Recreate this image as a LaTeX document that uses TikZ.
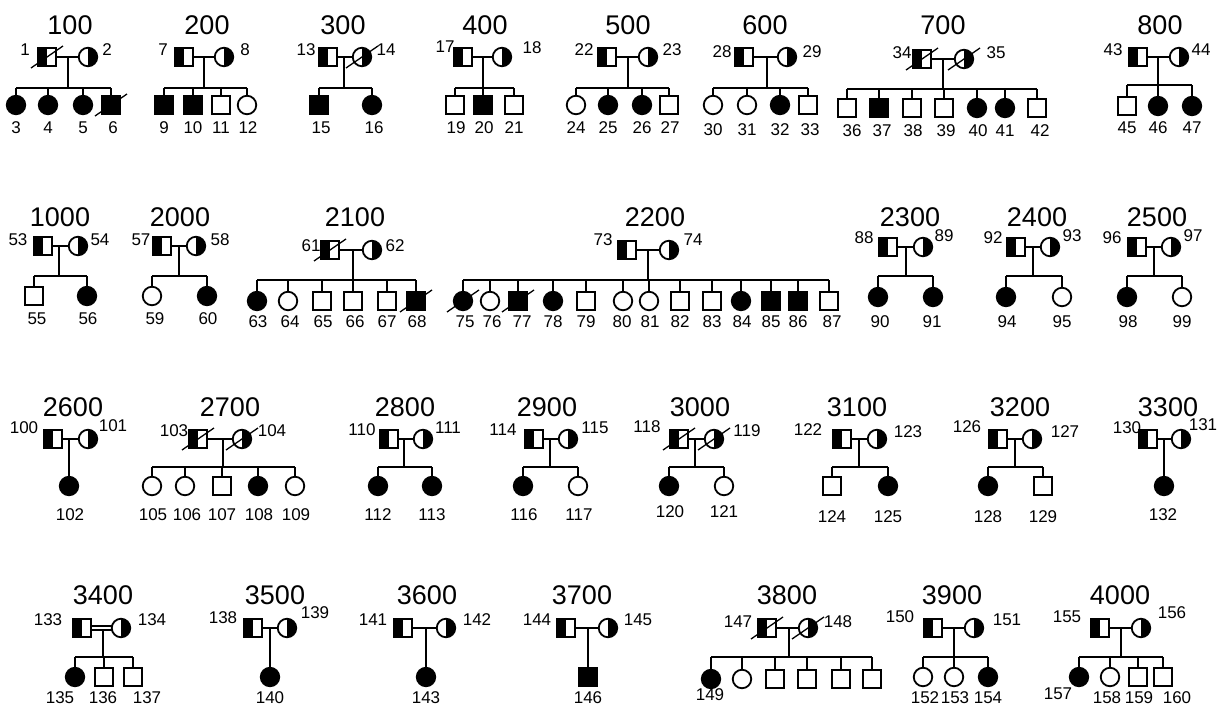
\documentclass[tikz,border=0pt]{standalone}
\usepackage{fontspec}
\setmainfont{Liberation Sans}
\tikzset{
  ln/.style={line width=1.8pt},
  sym/.style={draw, line width=1.8pt, inner sep=0pt, outer sep=0pt},
  sq/.style={sym, rectangle, minimum width=18.5pt, minimum height=17.5pt},
  ci/.style={sym, circle, minimum size=18.5pt},
  aff/.style={fill=black},
  hm/.style={path picture={\fill[black] (path picture bounding box.south west) rectangle (path picture bounding box.north);}},
  hf/.style={path picture={\fill[black] (path picture bounding box.south) rectangle (path picture bounding box.north east);}},
  ttl/.style={font=\fontsize{27}{27}\selectfont, inner sep=0pt},
  lab/.style={font=\fontsize{17}{17}\selectfont, inner sep=0pt},
  slash/.style={line width=1.3pt},
}
\newcommand\Pm[5]{\node[sq,hm,#2] (p#1) at (#3,\py) {}; \node[lab] (l#1) at (#4,#5) {#1};}
\newcommand\Pf[5]{\node[ci,hf,#2] (p#1) at (#3,\py) {}; \node[lab] (l#1) at (#4,#5) {#1};}
\newcommand\K[4]{\node[#2] (c#1) at (#3,\cy) {}; \node[lab] (l#1) at (#4,\ly) {#1};}
\newcommand\Couple[5]{\node[ttl] (t#1) at (#2,\ty) {#1}; \draw[ln] (p#3) -- (p#4); \coordinate (m#1) at (#5,\py); \coordinate (s#1) at (#5,\sy);}
\newcommand\Sib[4]{\draw[ln] (m#1) -- (s#1); \draw[ln] (c#2|-s#1) -- (c#3|-s#1); \foreach \k in {#4} {\draw[ln] (c\k|-s#1) -- (c\k);}}
\newcommand\Dead[1]{\draw[slash] ([shift={(-16,11)}]#1.center) -- ([shift={(16,-11)}]#1.center);}
\begin{document}
\begin{tikzpicture}[x=1pt,y=-1pt]
\useasboundingbox[fill=white] (0,0) rectangle (1224,707);
% ================= ROW 1
\def\ty{25}\def\py{57}\def\sy{88}\def\cy{105}\def\ly{128}
% 100
\Pm{1}{}{47}{25}{50} \Pf{2}{}{88}{107}{50}
\Couple{100}{70}{1}{2}{68}
\K{3}{ci,aff}{16}{16} \K{4}{ci,aff}{48}{48} \K{5}{ci,aff}{83}{83} \K{6}{sq,aff}{111}{113}
\Sib{100}{3}{6}{3,4,5,6}
\Dead{p1}\Dead{c6}
% 200
\Pm{7}{}{184}{163}{50} \Pf{8}{}{224}{245}{50}
\Couple{200}{207}{7}{8}{204}
\K{9}{sq,aff}{164}{164} \K{10}{sq,aff}{193}{193} \K{11}{sq}{221}{221} \K{12}{ci}{247}{248}
\Sib{200}{9}{12}{9,10,11,12}
% 300
\Pm{13}{}{328}{306}{50} \Pf{14}{}{362}{386}{50}
\Couple{300}{343}{13}{14}{344}
\K{15}{sq,aff}{319}{321} \K{16}{ci,aff}{372}{374}
\Sib{300}{15}{16}{15,16}
\Dead{p14}
% 400
\Pm{17}{}{463}{445}{47} \Pf{18}{}{502}{532}{48}
\Couple{400}{485}{17}{18}{483}
\K{19}{sq}{455}{456} \K{20}{sq,aff}{483}{484} \K{21}{sq}{514}{514}
\Sib{400}{19}{21}{19,20,21}
% 500
\Pm{22}{}{607}{584}{50} \Pf{23}{}{648}{672}{50}
\Couple{500}{628}{22}{23}{628}
\K{24}{ci}{576}{576} \K{25}{ci,aff}{608}{608} \K{26}{ci,aff}{642}{642} \K{27}{sq}{669}{670}
\Sib{500}{24}{27}{24,25,26,27}
% 600
\def\ly{130}
\Pm{28}{}{744}{722}{52} \Pf{29}{}{787}{812}{52}
\Couple{600}{765}{28}{29}{767}
\K{30}{ci}{713}{713} \K{31}{ci}{747}{747} \K{32}{ci,aff}{780}{780} \K{33}{sq}{808}{810}
\Sib{600}{30}{33}{30,31,32,33}
% 700
\def\py{59}\def\sy{89}\def\cy{108}\def\ly{131}
\Pm{34}{}{922}{902}{53} \Pf{35}{}{964}{996}{53}
\Couple{700}{943}{34}{35}{943}
\K{36}{sq}{847}{852} \K{37}{sq,aff}{879}{882} \K{38}{sq}{912}{913} \K{39}{sq}{944}{946}
\K{40}{ci,aff}{977}{978} \K{41}{ci,aff}{1005}{1005} \K{42}{sq}{1037}{1040}
\Sib{700}{36}{42}{36,37,38,39,40,41,42}
\Dead{p34}\Dead{p35}
% 800
\def\py{57}\def\sy{85}\def\cy{106}\def\ly{128}
\Pm{43}{}{1138}{1113}{50} \Pf{44}{}{1179}{1201}{50}
\Couple{800}{1160}{43}{44}{1158}
\K{45}{sq}{1127}{1127} \K{46}{ci,aff}{1158}{1158} \K{47}{ci,aff}{1192}{1192}
\Sib{800}{45}{47}{45,46,47}
% ================= ROW 2
\def\ty{217}\def\py{246}\def\sy{276}\def\cy{296}\def\ly{319}
% 1000
\Pm{53}{}{43}{18}{240} \Pf{54}{}{78}{100}{240}
\Couple{1000}{60}{53}{54}{59}
\K{55}{sq}{34}{37} \K{56}{ci,aff}{87}{88}
\Sib{1000}{55}{56}{55,56}
% 2000
\Pm{57}{}{162}{141}{240} \Pf{58}{}{196}{220}{240}
\Couple{2000}{180}{57}{58}{179}
\K{59}{ci}{152}{155} \K{60}{ci,aff}{207}{208}
\Sib{2000}{59}{60}{59,60}
% 2100
\def\py{250}\def\sy{280}\def\cy{301}\def\ly{322}
\Pm{61}{}{330}{311}{246} \Pf{62}{}{372}{395}{246}
\Couple{2100}{355}{61}{62}{353}
\K{63}{ci,aff}{257}{258} \K{64}{ci}{288}{290} \K{65}{sq}{322}{323} \K{66}{sq}{353}{355}
\K{67}{sq}{387}{387} \K{68}{sq,aff}{416}{417}
\Sib{2100}{63}{68}{63,64,65,66,67,68}
\Dead{p61}\Dead{c68}
% 2200
\Pm{73}{}{627}{603}{240} \Pf{74}{}{669}{693}{240}
\Couple{2200}{655}{73}{74}{648}
\K{75}{ci,aff}{463}{465} \K{76}{ci}{490}{492} \K{77}{sq,aff}{518}{522} \K{78}{ci,aff}{553}{553}
\K{79}{sq}{586}{586} \K{80}{ci}{623}{622} \K{81}{ci}{649}{650} \K{82}{sq}{680}{680}
\K{83}{sq}{712}{712} \K{84}{ci,aff}{741}{742} \K{85}{sq,aff}{771}{771} \K{86}{sq,aff}{798}{798}
\K{87}{sq}{829}{832}
\Sib{2200}{75}{87}{75,76,77,78,79,80,81,82,83,84,85,86,87}
\Dead{c75}\Dead{c77}
% 2300
\def\py{247}\def\sy{276}\def\cy{297}\def\ly{322}
\Pm{88}{}{888}{864}{238} \Pf{89}{}{923}{944}{236}
\Couple{2300}{910}{88}{89}{906}
\K{90}{ci,aff}{878}{880} \K{91}{ci,aff}{933}{932}
\Sib{2300}{90}{91}{90,91}
% 2400
\Pm{92}{}{1016}{993}{238} \Pf{93}{}{1050}{1072}{236}
\Couple{2400}{1037}{92}{93}{1033}
\K{94}{ci,aff}{1006}{1007} \K{95}{ci}{1062}{1062}
\Sib{2400}{94}{95}{94,95}
% 2500
\Pm{96}{}{1137}{1112}{238} \Pf{97}{}{1171}{1193}{236}
\Couple{2500}{1157}{96}{97}{1154}
\K{98}{ci,aff}{1127}{1128} \K{99}{ci}{1182}{1182}
\Sib{2500}{98}{99}{98,99}
% ================= ROW 3
\def\ty{407}\def\py{439}\def\sy{467}\def\cy{486}\def\ly{515}
% 2600
\Pm{100}{}{53}{24}{428} \Pf{101}{}{88}{113}{426}
\Couple{2600}{73}{100}{101}{69}
\K{102}{ci,aff}{69}{70}
\draw[ln] (m2600) -- (c102);
% 2700
\Pm{103}{}{198}{174}{431} \Pf{104}{}{242}{272}{431}
\Couple{2700}{230}{103}{104}{223}
\K{105}{ci}{152}{153} \K{106}{ci}{185}{187} \K{107}{sq}{222}{222} \K{108}{ci,aff}{258}{259} \K{109}{ci}{295}{296}
\Sib{2700}{105}{109}{105,106,107,108,109}
\Dead{p103}\Dead{p104}
% 2800
\Pm{110}{}{389}{362}{430} \Pf{111}{}{423}{448}{428}
\Couple{2800}{405}{110}{111}{404}
\K{112}{ci,aff}{378}{378} \K{113}{ci,aff}{432}{432}
\Sib{2800}{112}{113}{112,113}
% 2900
\Pm{114}{}{534}{503}{430} \Pf{115}{}{568}{595}{428}
\Couple{2900}{547}{114}{115}{550}
\K{116}{ci,aff}{523}{524} \K{117}{ci}{578}{579}
\Sib{2900}{116}{117}{116,117}
% 3000
\def\ly{512}
\Pm{118}{}{679}{647}{427} \Pf{119}{}{714}{747}{431}
\Couple{3000}{700}{118}{119}{695}
\K{120}{ci,aff}{669}{670} \K{121}{ci}{724}{724}
\Sib{3000}{120}{121}{120,121}
\Dead{p118}\Dead{p119}
% 3100
\def\ly{517}
\Pm{122}{}{842}{808}{430} \Pf{123}{}{877}{908}{432}
\Couple{3100}{857}{122}{123}{859}
\K{124}{sq}{832}{832} \K{125}{ci,aff}{888}{888}
\Sib{3100}{124}{125}{124,125}
% 3200
\Pm{126}{}{998}{967}{427} \Pf{127}{}{1032}{1065}{432}
\Couple{3200}{1020}{126}{127}{1015}
\K{128}{ci,aff}{988}{988} \K{129}{sq}{1043}{1043}
\Sib{3200}{128}{129}{128,129}
% 3300
\def\ly{515}
\Pm{130}{}{1148}{1127}{428} \Pf{131}{}{1181}{1203}{425}
\Couple{3300}{1168}{130}{131}{1164}
\K{132}{ci,aff}{1164}{1163}
\draw[ln] (m3300) -- (c132);
% ================= ROW 4
\def\ty{595}\def\py{628}\def\sy{657}\def\cy{677}\def\ly{698}
% 3400
\Pm{133}{}{82}{48}{620} \Pf{134}{}{121}{152}{620}
\node[ttl] (t3400) at (103,\ty) {3400};
\draw[ln] ([yshift=2.3pt]p133.east) -- ([yshift=2.3pt,xshift=0.4pt]p134.west);
\draw[ln] ([yshift=-2.3pt]p133.east) -- ([yshift=-2.3pt,xshift=0.4pt]p134.west);
\coordinate (m3400) at (103,630); \coordinate (s3400) at (103,\sy);
\K{135}{ci,aff}{75}{60} \K{136}{sq}{104}{103} \K{137}{sq}{133}{147}
\Sib{3400}{135}{137}{135,136,137}
% 3500
\Pm{138}{}{253}{223}{618} \Pf{139}{}{287}{315}{613}
\Couple{3500}{275}{138}{139}{270}
\K{140}{ci,aff}{270}{270}
\draw[ln] (m3500) -- (c140);
% 3600
\Pm{141}{}{403}{373}{620} \Pf{142}{}{446}{477}{620}
\Couple{3600}{427}{141}{142}{426}
\K{143}{ci,aff}{426}{426}
\draw[ln] (m3600) -- (c143);
% 3700
\Pm{144}{}{566}{537}{620} \Pf{145}{}{608}{638}{620}
\Couple{3700}{582}{144}{145}{588}
\K{146}{sq,aff}{588}{588}
\draw[ln] (m3700) -- (c146);
% 3800
\Pm{147}{}{767}{738}{622} \Pf{148}{}{808}{838}{622}
\Couple{3800}{787}{147}{148}{789}
\def\cy{679}\def\ly{695}
\K{149}{ci,aff}{711}{710}
\node[ci] (c3800b) at (742,\cy) {};
\node[sq] (c3800c) at (775,\cy) {};
\node[sq] (c3800d) at (807,\cy) {};
\node[sq] (c3800e) at (841,\cy) {};
\node[sq] (c3800f) at (872,\cy) {};
\Sib{3800}{149}{3800f}{149,3800b,3800c,3800d,3800e,3800f}
\Dead{p147}\Dead{p148}
% 3900
\def\cy{677}\def\ly{698}
\Pm{150}{}{933}{900}{617} \Pf{151}{}{974}{1007}{620}
\Couple{3900}{952}{150}{151}{954}
\K{152}{ci}{923}{925} \K{153}{ci}{954}{955} \K{154}{ci,aff}{988}{988}
\Sib{3900}{152}{154}{152,153,154}
% 4000
\Pm{155}{}{1100}{1067}{617} \Pf{156}{}{1141}{1172}{613}
\Couple{4000}{1120}{155}{156}{1121}
\def\ly{694}
\K{157}{ci,aff}{1079}{1058}
\def\ly{698}
\K{158}{ci}{1110}{1107} \K{159}{sq}{1138}{1139} \K{160}{sq}{1163}{1177}
\Sib{4000}{157}{160}{157,158,159,160}
\end{tikzpicture}
\end{document}
